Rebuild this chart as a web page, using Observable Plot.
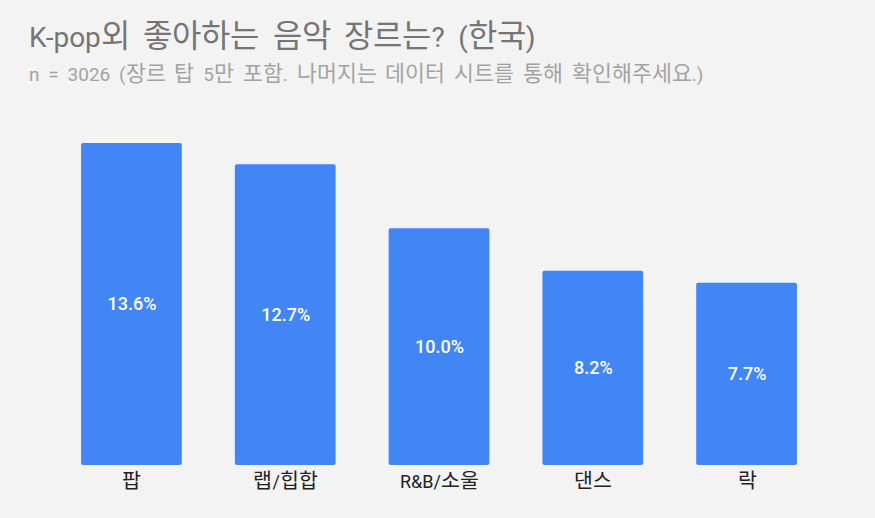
<!DOCTYPE html>
<html>
<head>
<meta charset="utf-8">
<script src="https://cdn.jsdelivr.net/npm/d3@7"></script>
<script src="https://cdn.jsdelivr.net/npm/@observablehq/plot@0.6"></script>
<style>
  @font-face {
    font-family: "KRW";
    src: local("Noto Sans CJK KR"), local("Noto Sans CJK KR Regular"), local("NotoSansCJKkr-Regular");
    unicode-range: U+1100-11FF, U+3130-318F, U+AC00-D7A3;
    size-adjust: 114%;
  }
  html, body { margin: 0; padding: 0; background: #f3f3f3; }
  #wrap { position: relative; width: 875px; height: 518px; overflow: hidden; font-family: Roboto, "KRW", "Noto Sans CJK KR", sans-serif; }
  #title { position: absolute; left: 29px; top: 21px; font-size: 28px; color: #757575; white-space: nowrap; line-height: 34px; word-spacing: 6.6px; }
  #subtitle { position: absolute; left: 29px; top: 63px; font-size: 19px; color: #a3a3a3; white-space: nowrap; line-height: 24px; word-spacing: 4.1px; }
  #chart { position: absolute; left: 0; top: 0; }
</style>
</head>
<body>
<div id="wrap">
  <div id="chart"></div>
  <div id="title">K-pop외 좋아하는 음악 장르는? (한국)</div>
  <div id="subtitle">n = 3026 (장르 탑 5만 포함. 나머지는 데이터 시트를 통해 확인해주세요.)</div>
</div>
<script>
const genres = ["팝", "랩/힙합", "R&B/소울", "댄스", "락"];
const shares = [13.6, 12.7, 10.0, 8.2, 7.7];
const labels = ["13.6%", "12.7%", "10.0%", "8.2%", "7.7%"];

const data = genres.map((g, i) => ({genre: g, value: shares[i], label: labels[i]}));

const chart = Plot.plot({
  width: 875,
  height: 518,
  marginTop: 143,
  marginBottom: 53,
  marginLeft: 28,
  marginRight: 25,
  style: {background: "transparent", fontFamily: "Roboto, 'KRW', 'Noto Sans CJK KR', sans-serif"},
  x: {domain: genres, padding: 0.345, round: false, label: null},
  y: {domain: [0, 13.6], axis: null},
  marks: [
    Plot.barY(data, {x: "genre", y: "value", fill: "#4285f4", rx: 2}),
    Plot.text(data, {x: "genre", y: d => d.value / 2, text: "label", fill: "#ffffff", fontSize: 18, fontWeight: 500}),
    Plot.axisX({tickSize: 0, tickPadding: 10, fontSize: 18, fill: "#222222", label: null})
  ]
});
document.getElementById("chart").appendChild(chart);
</script>
</body>
</html>
